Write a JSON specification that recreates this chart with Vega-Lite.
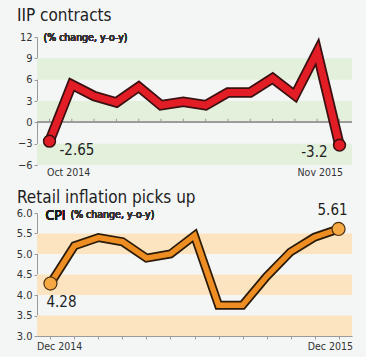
{
  "$schema": "https://vega.github.io/schema/vega-lite/v6.json",
  "background": "#f4f6f6",
  "padding": {"left": 16, "top": 6, "right": 5, "bottom": 5},
  "spacing": 10,
  "config": {
    "view": {"stroke": null},
    "font": "'DejaVu Sans Condensed', Roboto, sans-serif",
    "title": {"anchor": "start", "frame": "group", "dx": -20, "fontSize": 17, "fontWeight": "normal", "color": "#1e1e1e", "font": "'DejaVu Sans Condensed', Roboto, sans-serif", "offset": 6},
    "axis": {"labelFont": "'DejaVu Sans Condensed', Roboto, sans-serif", "labelColor": "#333333", "labelFontSize": 11, "domainColor": "#9a9a9a", "tickColor": "#9a9a9a", "grid": false, "title": null, "tickSize": 3}
  },
  "vconcat": [
    {
      "title": "IIP contracts",
      "width": 315,
      "height": 128,
      "data": {"values": [
        {"month": "Oct 2014", "iip": -2.65, "label": "-2.65", "end": "first"},
        {"month": "Nov 2014", "iip": 5.3},
        {"month": "Dec 2014", "iip": 3.7},
        {"month": "Jan 2015", "iip": 2.8},
        {"month": "Feb 2015", "iip": 5.0},
        {"month": "Mar 2015", "iip": 2.4},
        {"month": "Apr 2015", "iip": 2.9},
        {"month": "May 2015", "iip": 2.4},
        {"month": "Jun 2015", "iip": 4.2},
        {"month": "Jul 2015", "iip": 4.2},
        {"month": "Aug 2015", "iip": 6.2},
        {"month": "Sep 2015", "iip": 3.8},
        {"month": "Oct 2015", "iip": 9.9},
        {"month": "Nov 2015", "iip": -3.2, "label": "-3.2", "end": "last"}
      ]},
      "encoding": {
        "x": {"field": "month", "type": "ordinal", "sort": null,
              "scale": {"type": "point", "padding": 0.56},
              "axis": {"domain": false, "ticks": false, "labelAngle": 0, "labelFontSize": 10.5, "labelPadding": 2,
                       "labelFlush": 15, "labelFlushOffset": 3,
                       "labelExpr": "datum.value == 'Oct 2014' || datum.value == 'Nov 2015' ? datum.value : ''"}},
        "y": {"type": "quantitative", "scale": {"domain": [-6, 12], "nice": false},
              "axis": {"values": [-6, -3, 0, 3, 6, 9, 12]}}
      },
      "layer": [
        {
          "data": {"values": [{"lo": 6, "hi": 9}, {"lo": 0, "hi": 3}, {"lo": -6, "hi": -3}]},
          "mark": {"type": "rect", "color": "#e2f0dc"},
          "encoding": {"x": null, "y": {"field": "lo", "type": "quantitative"}, "y2": {"field": "hi"}}
        },
        {
          "mark": {"type": "rule", "color": "#9a9a9a", "strokeWidth": 1},
          "encoding": {"x": null, "y": {"datum": 0}}
        },
        {
          "mark": {"type": "rule", "color": "#9a9a9a", "strokeWidth": 1},
          "encoding": {"y": {"datum": 0}, "y2": {"datum": 0.5}}
        },
        {
          "mark": {"type": "line", "color": "#3a1010", "strokeWidth": 10.5, "strokeJoin": "miter"},
          "encoding": {"y": {"field": "iip"}}
        },
        {
          "mark": {"type": "line", "color": "#e21d25", "strokeWidth": 7, "strokeJoin": "miter"},
          "encoding": {"y": {"field": "iip"}}
        },
        {
          "transform": [{"filter": "datum.end"}],
          "mark": {"type": "point", "filled": true, "size": 140, "fill": "#e21d25", "stroke": "#3a1010", "strokeWidth": 1.5, "opacity": 1},
          "encoding": {"y": {"field": "iip"}}
        },
        {
          "transform": [{"filter": "datum.end == 'first'"}],
          "mark": {"type": "text", "align": "left", "baseline": "middle", "dx": 10, "dy": 9, "fontSize": 15, "color": "#1e1e1e"},
          "encoding": {"y": {"field": "iip"}, "text": {"field": "label"}}
        },
        {
          "transform": [{"filter": "datum.end == 'last'"}],
          "mark": {"type": "text", "align": "right", "baseline": "middle", "dx": -12, "dy": 7, "fontSize": 15, "color": "#1e1e1e"},
          "encoding": {"y": {"field": "iip"}, "text": {"field": "label"}}
        },
        {
          "mark": {"type": "text", "align": "left", "baseline": "middle", "dx": -6, "dy": 1, "fontSize": 10.5, "color": "#333333"},
          "encoding": {"x": {"datum": "Oct 2014"}, "y": {"datum": 12}, "text": {"value": "(% change, y-o-y)"}}
        }
      ]
    },
    {
      "title": {"text": "Retail inflation picks up", "offset": -4},
      "width": 315,
      "height": 123,
      "data": {"values": [
        {"month": "Dec 2014", "cpi": 4.28, "label": "4.28", "end": "first"},
        {"month": "Jan 2015", "cpi": 5.2},
        {"month": "Feb 2015", "cpi": 5.4},
        {"month": "Mar 2015", "cpi": 5.3},
        {"month": "Apr 2015", "cpi": 4.9},
        {"month": "May 2015", "cpi": 5.0},
        {"month": "Jun 2015", "cpi": 5.45},
        {"month": "Jul 2015", "cpi": 3.75},
        {"month": "Aug 2015", "cpi": 3.75},
        {"month": "Sep 2015", "cpi": 4.45},
        {"month": "Oct 2015", "cpi": 5.05},
        {"month": "Nov 2015", "cpi": 5.41},
        {"month": "Dec 2015", "cpi": 5.61, "label": "5.61", "end": "last"}
      ]},
      "encoding": {
        "x": {"field": "month", "type": "ordinal", "sort": null,
              "scale": {"type": "point", "padding": 0.56},
              "axis": {"domain": true, "ticks": true, "labelAngle": 0, "labelFontSize": 10.5, "labelPadding": 2,
                       "labelFlush": 15, "labelFlushOffset": 14,
                       "labelExpr": "datum.value == 'Dec 2014' || datum.value == 'Dec 2015' ? datum.value : ''"}},
        "y": {"type": "quantitative", "scale": {"domain": [3, 6], "nice": false},
              "axis": {"values": [3, 3.5, 4, 4.5, 5, 5.5, 6], "format": ".1f"}}
      },
      "layer": [
        {
          "data": {"values": [{"lo": 5, "hi": 5.5}, {"lo": 4, "hi": 4.5}, {"lo": 3, "hi": 3.5}]},
          "mark": {"type": "rect", "color": "#fde4c0"},
          "encoding": {"x": null, "y": {"field": "lo", "type": "quantitative"}, "y2": {"field": "hi"}}
        },
        {
          "mark": {"type": "line", "color": "#2a1a08", "strokeWidth": 9, "strokeJoin": "miter"},
          "encoding": {"y": {"field": "cpi"}}
        },
        {
          "mark": {"type": "line", "color": "#ee8e22", "strokeWidth": 5.5, "strokeJoin": "miter"},
          "encoding": {"y": {"field": "cpi"}}
        },
        {
          "transform": [{"filter": "datum.end"}],
          "mark": {"type": "point", "filled": true, "size": 170, "fill": "#f6a844", "stroke": "#4a3010", "strokeWidth": 1.2, "opacity": 1},
          "encoding": {"y": {"field": "cpi"}}
        },
        {
          "transform": [{"filter": "datum.end == 'first'"}],
          "mark": {"type": "text", "align": "left", "baseline": "middle", "dx": -4, "dy": 18, "fontSize": 15, "color": "#1e1e1e"},
          "encoding": {"y": {"field": "cpi"}, "text": {"field": "label"}}
        },
        {
          "transform": [{"filter": "datum.end == 'last'"}],
          "mark": {"type": "text", "align": "center", "baseline": "middle", "dx": -6, "dy": -19, "fontSize": 15, "color": "#1e1e1e"},
          "encoding": {"y": {"field": "cpi"}, "text": {"field": "label"}}
        },
        {
          "mark": {"type": "text", "align": "left", "baseline": "middle", "dx": -5, "dy": 3, "fontSize": 14, "color": "#1e1e1e"},
          "encoding": {"x": {"datum": "Dec 2014"}, "y": {"datum": 6}, "text": {"value": "CPI"}}
        },
        {
          "mark": {"type": "text", "align": "left", "baseline": "middle", "dx": 20, "dy": 2, "fontSize": 10.5, "color": "#333333"},
          "encoding": {"x": {"datum": "Dec 2014"}, "y": {"datum": 6}, "text": {"value": "(% change, y-o-y)"}}
        }
      ]
    }
  ]
}
